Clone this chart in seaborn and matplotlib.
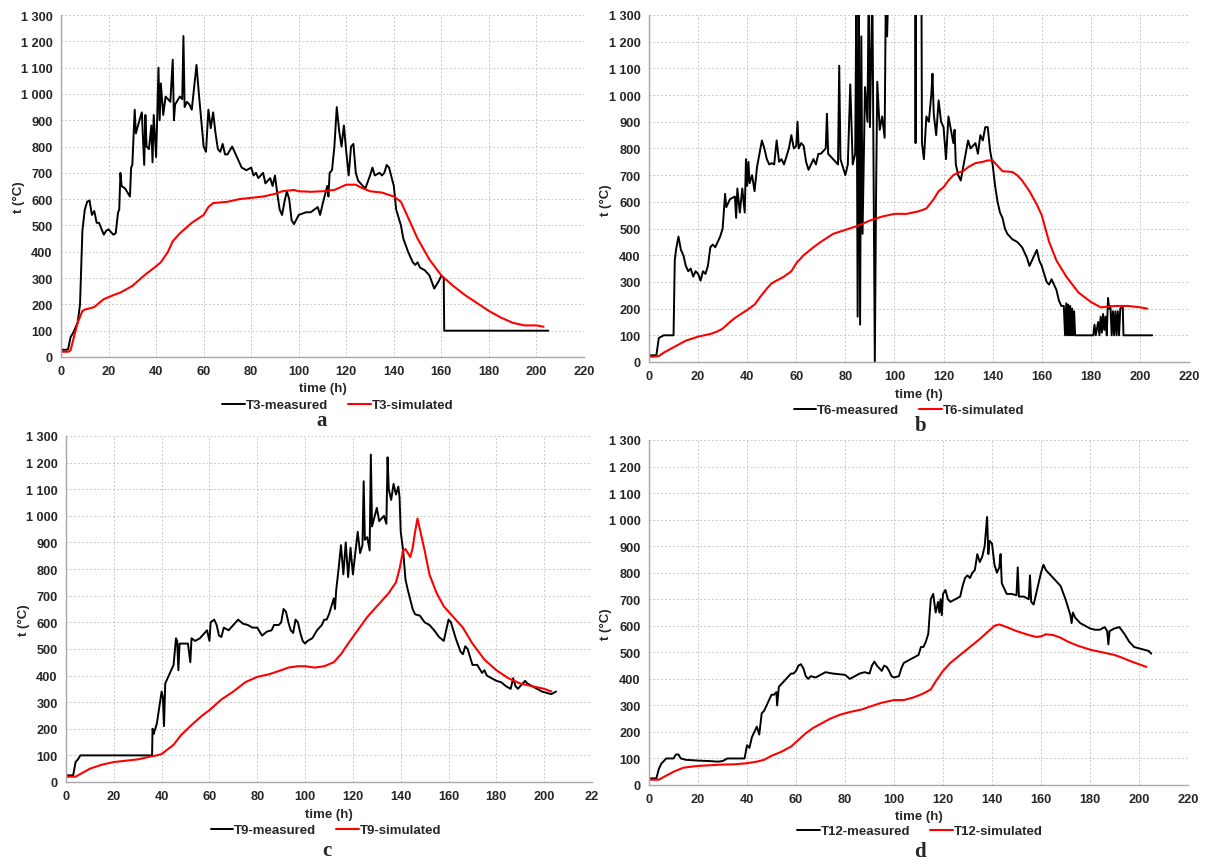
import matplotlib
matplotlib.use("Agg")
import numpy as np
import pandas as pd
import seaborn as sns
import matplotlib.pyplot as plt
from matplotlib.ticker import FuncFormatter, MultipleLocator

# ---------------- DATA ----------------
T3_MEAS_T = [0, 2, 3, 4, 5, 7, 8, 9, 10, 11, 12, 13, 14, 15, 16, 18, 19, 20, 22, 23, 24, 24.5, 25, 25.5, 27, 29,
             29.5, 30, 31, 31.5, 33, 34, 35, 35.5, 36, 37, 38, 38.5, 39, 40, 40.5, 41, 41.5, 42, 43, 44, 46, 47,
             47.5, 48, 50, 51, 51.5, 52, 53, 54, 55, 57, 58, 59, 60, 61, 62, 63, 64, 65, 66, 67, 68, 69, 70, 72,
             74, 76, 78, 80, 81, 82, 83, 85, 86, 88, 89, 90, 91, 92, 93, 94, 95, 96, 97, 98, 100, 103, 105, 108,
             109, 110, 112, 112.5, 113, 114, 115, 116, 117, 118, 119, 120, 121, 122, 123, 124, 125, 127, 128, 130,
             131, 132, 134, 135, 136, 137, 138, 140, 141, 143, 144, 146, 148, 149, 150, 151, 153, 155, 157, 159,
             160, 161, 161.2, 170, 205]
T3_MEAS_V = [28, 27, 30, 75, 90, 130, 200, 480, 560, 590, 595, 540, 555, 510, 510, 465, 480, 485, 465, 470, 550, 560,
             700, 650, 640, 610, 720, 730, 940, 850, 900, 930, 730, 920, 800, 790, 880, 740, 920, 760, 920, 1100,
             900, 1040, 920, 990, 970, 1130, 900, 960, 990, 980, 1220, 950, 970, 960, 940, 1110, 1000, 900, 800,
             780, 940, 870, 930, 850, 790, 780, 810, 770, 770, 800, 760, 720, 710, 720, 690, 700, 680, 700, 660,
             680, 650, 690, 620, 560, 540, 590, 630, 600, 520, 505, 540, 550, 550, 570, 540, 580, 650, 610, 700,
             710, 800, 950, 860, 800, 880, 780, 690, 800, 810, 700, 670, 650, 640, 690, 720, 690, 700, 690, 700,
             730, 720, 650, 560, 500, 450, 400, 360, 350, 360, 340, 330, 310, 260, 290, 310, 300, 100, 100, 100]
T3_SIM_T = [0, 3, 4, 5, 7, 9, 10, 12, 14, 16, 18, 22, 25, 30, 35, 40, 42, 45, 47, 50, 55, 60, 62, 64, 70, 75, 80,
            85, 90, 93, 98, 100, 105, 110, 115, 120, 124, 126, 130, 135, 140, 143, 145, 150, 155, 160, 165, 170,
            175, 180, 185, 190, 195, 200, 203]
T3_SIM_V = [20, 20, 25, 60, 130, 175, 180, 185, 190, 205, 220, 235, 245, 270, 310, 345, 360, 400, 440, 470, 510,
            540, 570, 585, 590, 600, 605, 610, 620, 630, 635, 630, 628, 630, 635, 655, 655, 645, 630, 625, 610,
            590, 550, 450, 370, 310, 270, 235, 205, 175, 150, 130, 120, 120, 115]

T6_MEAS_T = [0, 3, 4, 5, 6, 10, 10.5, 11, 12, 13, 14, 15, 16, 17, 18, 19, 20, 21, 22, 23, 24, 25, 26, 27, 28, 29,
             30, 31, 31.5, 33, 35, 35.5, 36, 37, 38, 39, 39.5, 40, 40.5, 41, 42, 43, 44, 45, 46, 47, 48, 49, 50,
             51, 52, 53, 54, 55, 57, 58, 59, 60, 60.5, 61, 62, 63, 64, 65, 66, 67, 68, 69, 70, 71, 72, 72.5, 73,
             75, 77, 77.5, 78, 79, 80, 81, 82, 83, 84, 84.5, 85, 85.5, 86, 86.5, 87, 88, 89, 89.5, 90, 91, 92,
             92.5, 93, 94, 95, 96, 96.5, 97, 97.5, 98, 103, 108.5, 108.6, 108.7, 111, 111.2, 112, 113, 114, 115,
             115.5, 116, 117, 118, 119, 120, 121, 122, 123, 124, 124.5, 125, 126, 127, 128, 129, 130, 131, 132,
             133, 134, 135, 136, 137, 138, 139, 140, 141, 142, 143, 144, 145, 146, 147, 148, 150, 152, 154, 155,
             156, 158, 159, 160, 161, 162, 163, 164, 165, 166, 167, 168, 169, 169.5, 170, 170.4, 170.8, 171.2,
             171.6, 172, 172.4, 172.8, 173.2, 173.6, 174, 181, 181.5, 182, 183, 183.5, 184, 184.5, 185, 185.5,
             186, 186.5, 187, 187.5, 188, 188.5, 189, 189.5, 190, 190.5, 191, 191.5, 192, 193, 193.3, 205]
T6_MEAS_V = [25, 25, 90, 95, 100, 100, 380, 420, 470, 420, 400, 360, 340, 350, 320, 340, 330, 305, 340, 330, 360,
             430, 440, 430, 450, 470, 500, 630, 580, 610, 620, 540, 650, 560, 650, 560, 760, 660, 750, 670, 700,
             640, 730, 780, 830, 800, 760, 740, 745, 740, 830, 750, 760, 740, 800, 850, 800, 810, 900, 800, 820,
             810, 750, 720, 740, 760, 740, 780, 780, 790, 800, 930, 780, 760, 740, 1110, 760, 730, 700, 740, 1040,
             740, 780, 1400, 170, 1400, 140, 1220, 480, 1030, 900, 1400, 880, 1400, 0, 620, 1050, 870, 920, 840,
             1400, 1220, 1400, 1500, 1500, 1400, 820, 1400, 1400, 820, 760, 920, 900, 1000, 1080, 930, 850, 980,
             900, 880, 760, 920, 870, 820, 870, 740, 700, 680, 730, 780, 830, 800, 810, 820, 780, 850, 830, 880,
             880, 790, 740, 660, 600, 560, 540, 500, 480, 470, 460, 450, 430, 390, 360, 380, 420, 380, 360, 330,
             300, 290, 310, 290, 270, 230, 210, 210, 100, 220, 100, 215, 100, 210, 100, 200, 100, 190, 100, 100,
             100, 140, 100, 150, 100, 170, 110, 180, 120, 170, 100, 240, 200, 210, 100, 190, 100, 190, 100, 190,
             100, 200, 210, 100, 100]
T6_SIM_T = [0, 2, 4, 6, 10, 15, 20, 25, 28, 30, 33, 35, 40, 43, 45, 48, 50, 55, 58, 60, 63, 67, 70, 75, 80, 85,
            90, 95, 100, 105, 110, 113, 116, 118, 120, 122, 124, 126, 128, 130, 133, 136, 138, 140, 142, 144,
            148, 150, 152, 155, 158, 160, 163, 166, 170, 175, 180, 184, 190, 195, 200, 203]
T6_SIM_V = [20, 20, 22, 35, 55, 80, 95, 105, 115, 125, 150, 165, 195, 215, 240, 275, 295, 320, 340, 370, 400, 430,
            450, 480, 495, 510, 530, 545, 555, 555, 565, 575, 610, 640, 655, 680, 700, 710, 715, 730, 745, 750,
            755, 755, 735, 715, 712, 700, 680, 640, 590, 550, 450, 380, 320, 260, 225, 205, 210, 210, 205, 200]

T9_MEAS_T = [0, 3, 4, 5, 6, 15, 36, 36.2, 36.6, 37, 38, 39, 40, 40.5, 41, 41.5, 42, 43, 44, 45, 46, 46.5, 47, 47.5,
             49, 51, 52, 52.5, 54, 56, 58, 59, 60, 60.5, 62, 63, 64, 65, 66, 68, 70, 72, 74, 76, 78, 80, 82, 84,
             86, 87, 89, 90, 91, 92, 93, 94, 95, 96, 97, 98, 99, 100, 101, 103, 105, 107, 108, 109, 110, 111,
             112, 112.5, 113, 114, 115, 116, 117, 118, 119, 120, 121, 122, 123, 124, 124.5, 125, 126, 127, 127.5,
             128, 130, 131, 132, 133, 134, 134.5, 135, 136, 137, 138, 139, 139.5, 140, 141, 142, 143, 145, 146,
             148, 150, 152, 154, 156, 158, 160, 161, 163, 165, 166, 167, 168, 169, 170, 172, 174, 175, 176, 178,
             180, 182, 184, 186, 187, 188, 189, 190, 192, 193, 195, 197, 199, 201, 203, 205]
T9_MEAS_V = [25, 25, 75, 85, 100, 100, 100, 200, 180, 190, 220, 280, 340, 320, 210, 370, 380, 400, 420, 440, 540,
             530, 420, 520, 520, 520, 450, 540, 530, 540, 560, 570, 530, 600, 610, 590, 550, 545, 580, 570, 590,
             610, 595, 590, 580, 580, 550, 565, 570, 590, 590, 600, 650, 640, 600, 570, 560, 610, 600, 560, 530,
             520, 530, 540, 570, 590, 610, 610, 630, 660, 690, 650, 720, 800, 890, 780, 900, 770, 880, 780, 860,
             940, 860, 890, 1130, 910, 920, 870, 1230, 960, 1030, 980, 990, 1000, 970, 1220, 1100, 1060, 1120,
             1080, 1110, 1070, 940, 870, 760, 720, 650, 630, 625, 600, 590, 570, 545, 530, 610, 600, 540, 490,
             480, 510, 500, 470, 440, 440, 410, 420, 400, 390, 380, 375, 360, 350, 390, 360, 350, 360, 380, 370,
             360, 350, 340, 335, 330, 340]
T9_SIM_T = [0, 4, 6, 10, 15, 20, 25, 30, 35, 38, 40, 45, 48, 52, 57, 60, 65, 70, 75, 80, 85, 90, 93, 97, 100, 104,
            108, 112, 115, 118, 122, 126, 130, 135, 138, 139.5, 141, 142, 143, 144, 145, 146, 147, 148, 150, 152,
            155, 158, 160, 163, 166, 170, 175, 180, 185, 190, 195, 200, 203]
T9_SIM_V = [20, 20, 30, 50, 65, 75, 80, 85, 95, 100, 105, 140, 175, 210, 250, 270, 310, 340, 375, 395, 405, 420,
            430, 435, 435, 430, 435, 450, 480, 520, 570, 620, 660, 710, 750, 800, 870, 875, 860, 845, 880, 940,
            990, 950, 870, 780, 710, 660, 640, 610, 580, 520, 460, 420, 390, 370, 360, 350, 340]

T12_MEAS_T = [0, 3, 4, 5, 7, 10, 11, 12, 13, 15, 20, 25, 28, 30, 32, 35, 39, 40, 41, 42, 43, 44, 45, 46, 47, 48,
              49, 50, 51, 52, 52.3, 53, 55, 57, 58, 59, 60, 61, 62, 63, 64, 65, 66, 68, 70, 72, 75, 80, 82, 84,
              86, 88, 90, 91, 92, 93, 94, 95, 96, 97, 98, 99, 100, 102, 103, 104, 106, 108, 110, 111, 112, 113,
              114, 115, 116, 117, 118, 118.5, 119, 119.5, 120, 121, 122, 123, 125, 127, 128, 129, 130, 131, 132,
              133, 134, 135, 136, 137, 138, 138.5, 139, 140, 141, 142, 143, 143.5, 144, 146, 148, 150, 150.5,
              151, 153, 155, 155.5, 156, 157, 158, 160, 161, 162, 164, 166, 168, 170, 172, 172.5, 173, 174, 176,
              178, 180, 182, 184, 186, 187, 187.5, 188, 190, 192, 194, 196, 198, 200, 202, 204, 205]
T12_MEAS_V = [25, 25, 60, 80, 100, 100, 115, 115, 100, 95, 92, 90, 88, 90, 100, 100, 100, 150, 140, 180, 200, 220,
              190, 270, 280, 300, 320, 340, 340, 350, 300, 370, 390, 410, 420, 420, 430, 450, 455, 440, 410, 400,
              410, 405, 415, 425, 420, 415, 400, 410, 420, 425, 420, 450, 465, 450, 440, 430, 450, 445, 430, 410,
              405, 410, 440, 460, 470, 480, 490, 520, 520, 540, 570, 700, 720, 650, 690, 650, 700, 640, 720, 735,
              700, 690, 700, 710, 750, 780, 790, 780, 800, 810, 870, 840, 860, 900, 1010, 870, 920, 910, 830, 800,
              820, 870, 760, 720, 720, 715, 820, 710, 710, 700, 790, 690, 680, 720, 800, 830, 810, 790, 770, 750,
              700, 640, 610, 650, 630, 610, 600, 590, 585, 585, 595, 580, 530, 580, 590, 595, 570, 540, 520, 515,
              510, 505, 495]
T12_SIM_T = [0, 4, 6, 10, 14, 18, 22, 26, 30, 35, 40, 44, 47, 50, 54, 58, 61, 64, 67, 70, 74, 78, 82, 87, 90, 95,
             100, 104, 108, 112, 115, 117, 120, 123, 127, 131, 135, 138, 141, 143, 146, 150, 155, 158, 160, 162,
             165, 168, 171, 175, 180, 185, 190, 193, 197, 200, 203]
T12_SIM_V = [20, 20, 30, 50, 65, 70, 73, 75, 77, 78, 82, 88, 95, 110, 125, 145, 170, 195, 215, 230, 250, 265, 275,
             285, 295, 310, 320, 320, 330, 345, 360, 390, 430, 460, 490, 520, 550, 575, 600, 605, 595, 580, 565,
             558, 560, 568, 565, 555, 540, 525, 510, 500, 490, 480, 465, 455, 445]

X_TICKS = [0, 20, 40, 60, 80, 100, 120, 140, 160, 180, 200, 220]
X_TICK_LABELS = ["0", "20", "40", "60", "80", "100", "120", "140", "160", "180", "200", "220"]
X_TICK_LABELS_C = ["0", "20", "40", "60", "80", "100", "120", "140", "160", "180", "200", "22"]
Y_TICKS = [0, 100, 200, 300, 400, 500, 600, 700, 800, 900, 1000, 1100, 1200, 1300]
PANEL_NAMES = ["T3", "T6", "T9", "T12"]
PANEL_LETTERS = ["a", "b", "c", "d"]

# ---------------- STYLE ----------------
sns.set_theme(style="white")
plt.rcParams["font.family"] = ["Liberation Sans", "DejaVu Sans"]
plt.rcParams["font.weight"] = "bold"

W, H = 1213, 862
fig = plt.figure(figsize=(W / 100, H / 100), dpi=100)


def frac(left, top, right, bottom):
    return [left / W, 1 - bottom / H, (right - left) / W, (bottom - top) / H]


# pixel boxes: left, top(1300), right(220), bottom(0)
boxes = [(61, 16, 584, 358), (649, 16, 1189, 363), (66, 437, 592, 783), (649, 441, 1188, 786)]
legend_x = [338, 909, 326, 920]
legend_y = [406, 411, 831, 832]
letter_x = [322, 921, 327, 920]
letter_y = [421, 426, 851, 852]
xlabel_y = [389, 395, 815, 817]

series = [
    (T3_MEAS_T, T3_MEAS_V, T3_SIM_T, T3_SIM_V),
    (T6_MEAS_T, T6_MEAS_V, T6_SIM_T, T6_SIM_V),
    (T9_MEAS_T, T9_MEAS_V, T9_SIM_T, T9_SIM_V),
    (T12_MEAS_T, T12_MEAS_V, T12_SIM_T, T12_SIM_V),
]

fmt = FuncFormatter(lambda v, p: f"{int(v):,}".replace(",", " "))
grid_col = "#c8c8c8"

for i, (box, (mt, mv, st, sv)) in enumerate(zip(boxes, series)):
    ax = fig.add_axes(frac(*box))
    name = PANEL_NAMES[i]
    df = pd.concat([
        pd.DataFrame({"time": mt, "temp": mv, "series": f"{name}-measured"}),
        pd.DataFrame({"time": st, "temp": sv, "series": f"{name}-simulated"}),
    ], ignore_index=True)
    sns.lineplot(data=df, x="time", y="temp", hue="series",
                 palette=["#000000", "#ff0000"], estimator=None, sort=False,
                 ax=ax, legend=False)
    ax.lines[0].set_linewidth(1.4)
    ax.lines[1].set_linewidth(1.5)
    ax.set_xlim(0, 220)
    ax.set_ylim(0, 1300)
    ax.set_xticks(X_TICKS)
    ax.set_xticklabels(X_TICK_LABELS_C if i == 2 else X_TICK_LABELS)
    ax.set_yticks(Y_TICKS)
    ax.yaxis.set_major_formatter(fmt)
    ax.tick_params(axis="both", labelsize=9.2, length=3, width=0.8, color="#a0a0a0", pad=3)
    for lab in ax.get_xticklabels() + ax.get_yticklabels():
        lab.set_fontweight("bold")
    ax.grid(True, color=grid_col, linestyle=(0, (2, 2)), linewidth=0.7)
    ax.set_axisbelow(True)
    for s in ["top", "right"]:
        ax.spines[s].set_visible(False)
    for s in ["left", "bottom"]:
        ax.spines[s].set_color("#a8a8a8")
        ax.spines[s].set_linewidth(1.0)
    ax.set_xlabel("")
    ax.set_ylabel("t (°C)", fontsize=9.5, fontweight="bold")
    ax.yaxis.set_label_coords(-0.068, 0.47)
    cx = (box[0] + box[2]) / 2
    fig.text(cx / W, 1 - xlabel_y[i] / H, "time (h)", ha="center", va="center",
             fontsize=9.5, fontweight="bold")
    ax.legend(handles=[ax.lines[0], ax.lines[1]],
              labels=[f"{name}-measured", f"{name}-simulated"],
              loc="center", bbox_to_anchor=(legend_x[i] / W, 1 - legend_y[i] / H),
              bbox_transform=fig.transFigure, ncol=2, frameon=False,
              handlelength=1.7, handletextpad=0.1, columnspacing=1.5,
              prop={"size": 9.5, "weight": "bold"})
    fig.text(letter_x[i] / W, 1 - letter_y[i] / H, PANEL_LETTERS[i], ha="center", va="center",
             fontsize=15, fontweight="bold", family="Liberation Serif")

fig.savefig("out.png", dpi=100)
